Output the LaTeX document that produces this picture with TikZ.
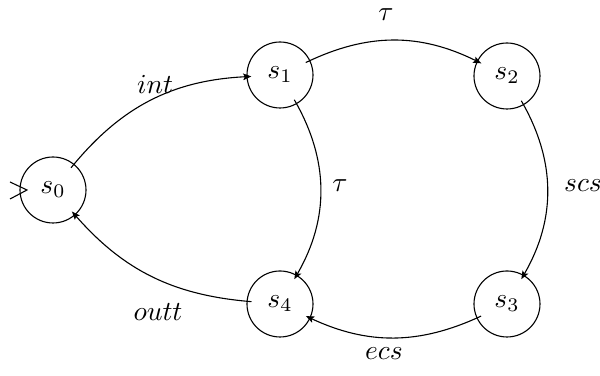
\documentclass[tikz,border=0pt]{standalone}
\usetikzlibrary{arrows.meta}
\begin{document}
\begin{tikzpicture}[x=0.3636pt,y=-0.3636pt,
  statec/.style={circle,draw,minimum size=24pt,inner sep=0pt,outer sep=-1.6pt},
  trans/.style={-{Stealth[length=3pt,width=2.4pt,inset=0.6pt]},line width=0.4pt},
  lbl/.style={inner sep=0pt}]
\useasboundingbox (0,0) rectangle (600,376);
\node[statec] (s0) at (53,190) {$s_0$};
\node[statec] (s1) at (280,75) {$s_1$};
\node[statec] (s2) at (507,76) {$s_2$};
\node[statec] (s3) at (507,304) {$s_3$};
\node[statec] (s4) at (280,304) {$s_4$};
% initial marker
\draw (10,182) -- (27,190) -- (10,199);
\draw[trans] (s0) to[bend left=24] (s1);
\draw[trans] (s1) to[bend left=26] (s2);
\draw[trans] (s2) to[bend left=30] (s3);
\draw[trans] (s3) to[bend left=25] (s4);
\draw[trans] (s4) to[bend left=22] (s0);
\draw[trans] (s1) to[bend left=30] (s4);
\node[lbl] (l01) at (155,84) {$int$};
\node[lbl] (l12) at (386,15) {$\tau$};
\node[lbl] (l14) at (340,186) {$\tau$};
\node[lbl] (l23) at (583,186) {$scs$};
\node[lbl] (l34) at (384,354) {$ecs$};
\node[lbl] (l40) at (158,312) {$outt$};
\end{tikzpicture}
\end{document}
